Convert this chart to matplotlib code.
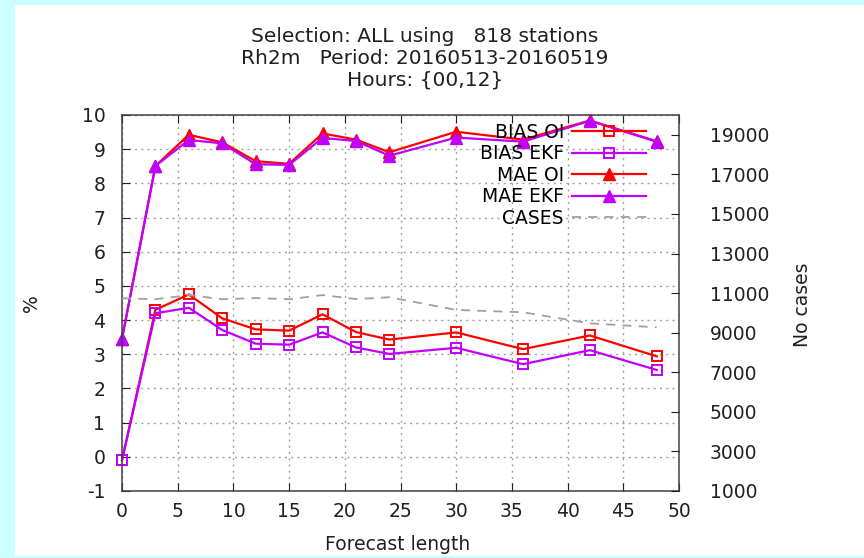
import matplotlib
matplotlib.use("Agg")
import matplotlib.pyplot as plt
from matplotlib.patches import Rectangle

# forecast lengths (h)
fclen = [0, 3, 6, 9, 12, 15, 18, 21, 24, 30, 36, 42, 48]

bias_oi = [-0.1, 4.30, 4.75, 4.05, 3.73, 3.69, 4.17, 3.65, 3.43, 3.64, 3.15, 3.55, 2.94]
bias_ekf = [-0.1, 4.20, 4.36, 3.71, 3.31, 3.28, 3.64, 3.20, 3.01, 3.19, 2.71, 3.12, 2.54]
mae_oi = [3.45, 8.51, 9.42, 9.20, 8.65, 8.57, 9.46, 9.28, 8.91, 9.51, 9.28, 9.84, 9.23]
mae_ekf = [3.45, 8.51, 9.27, 9.17, 8.56, 8.54, 9.33, 9.24, 8.81, 9.34, 9.22, 9.83, 9.22]
cases = [10740, 10690, 10900, 10690, 10750, 10690, 10900, 10700, 10790, 10150, 10030, 9470, 9270]

title_lines = ["Selection: ALL using   818 stations",
               "Rh2m   Period: 20160513-20160519",
               "Hours: {00,12}"]

red = "#ff0000"
purple = "#c000ff"
gray = "#a0a0a0"
txt = "#202020"

plt.rcParams["font.family"] = ["DejaVu Sans"]
plt.rcParams["axes.unicode_minus"] = False

fig = plt.figure(figsize=(8.64, 5.58), dpi=100)
fig.patch.set_facecolor("#ccffff")
fig.patches.append(Rectangle((15 / 864, 0.004), 1.0, 0.987, transform=fig.transFigure,
                             facecolor="white", edgecolor="none", zorder=-5))

ax = fig.add_axes([122 / 864, 67 / 558, 557 / 864, 376 / 558])
ax.set_facecolor("none")

ax.plot(fclen, bias_oi, color=red, lw=1.6, marker="s", ms=7, mfc="none", mew=1.4,
        label="BIAS OI", clip_on=False)
ax.plot(fclen, bias_ekf, color=purple, lw=1.6, marker="s", ms=7, mfc="none", mew=1.4,
        label="BIAS EKF", clip_on=False)
ax.plot(fclen, mae_oi, color=red, lw=1.6, marker="^", ms=9, label="MAE OI", clip_on=False)
ax.plot(fclen, mae_ekf, color=purple, lw=1.6, marker="^", ms=9, label="MAE EKF", clip_on=False)

ax.set_xlim(0, 50)
ax.set_ylim(-1, 10)
ax.set_xticks(range(0, 51, 5))
ax.set_yticks(range(-1, 11))
ax.grid(True, color=gray, linestyle=(0, (1.5, 3)), lw=1)
ax.tick_params(direction="in", length=6, top=True, right=True, labelsize=13.5,
               colors=txt, pad=8)
ax.tick_params(axis="y", pad=12)
for s in ax.spines.values():
    s.set_color("#404040")
    s.set_linewidth(1.1)

ax2 = ax.twinx()
ax2.plot(fclen, cases, color=gray, lw=1.3, linestyle=(0, (5, 4)), label="CASES")
ax2.set_ylim(1000, 20000)
ax2.set_yticks(range(1000, 20000, 2000))
ax2.tick_params(direction="in", length=6, labelsize=13.5, colors=txt, pad=22)
for s in ax2.spines.values():
    s.set_visible(False)

h1, l1 = ax.get_legend_handles_labels()
h2, l2 = ax2.get_legend_handles_labels()
leg = ax2.legend(h1 + h2, l1 + l2, loc="upper right", markerfirst=False, frameon=False,
                 fontsize=13.5, handlelength=3.9, handletextpad=0.45, labelspacing=0.14,
                 borderaxespad=0, bbox_to_anchor=(653 / 864, 1 - 115 / 558),
                 bbox_transform=fig.transFigure)

for i, line in enumerate(title_lines):
    fig.text(425 / 864, 1 - (36 + 22 * i) / 558, line, ha="center", va="center",
             fontsize=14.5, color=txt)

fig.text(398 / 864, 1 - 545 / 558, "Forecast length", ha="center", va="center",
         fontsize=13.5, color=txt)
fig.text(31 / 864, 1 - 303 / 558, "%", ha="center", va="center", rotation=90,
         fontsize=13.5, color=txt)
fig.text(803 / 864, 1 - 305 / 558, "No cases", ha="center", va="center", rotation=90,
         fontsize=13.5, color=txt)

fig.savefig("out.png", dpi=100, facecolor=fig.get_facecolor())
